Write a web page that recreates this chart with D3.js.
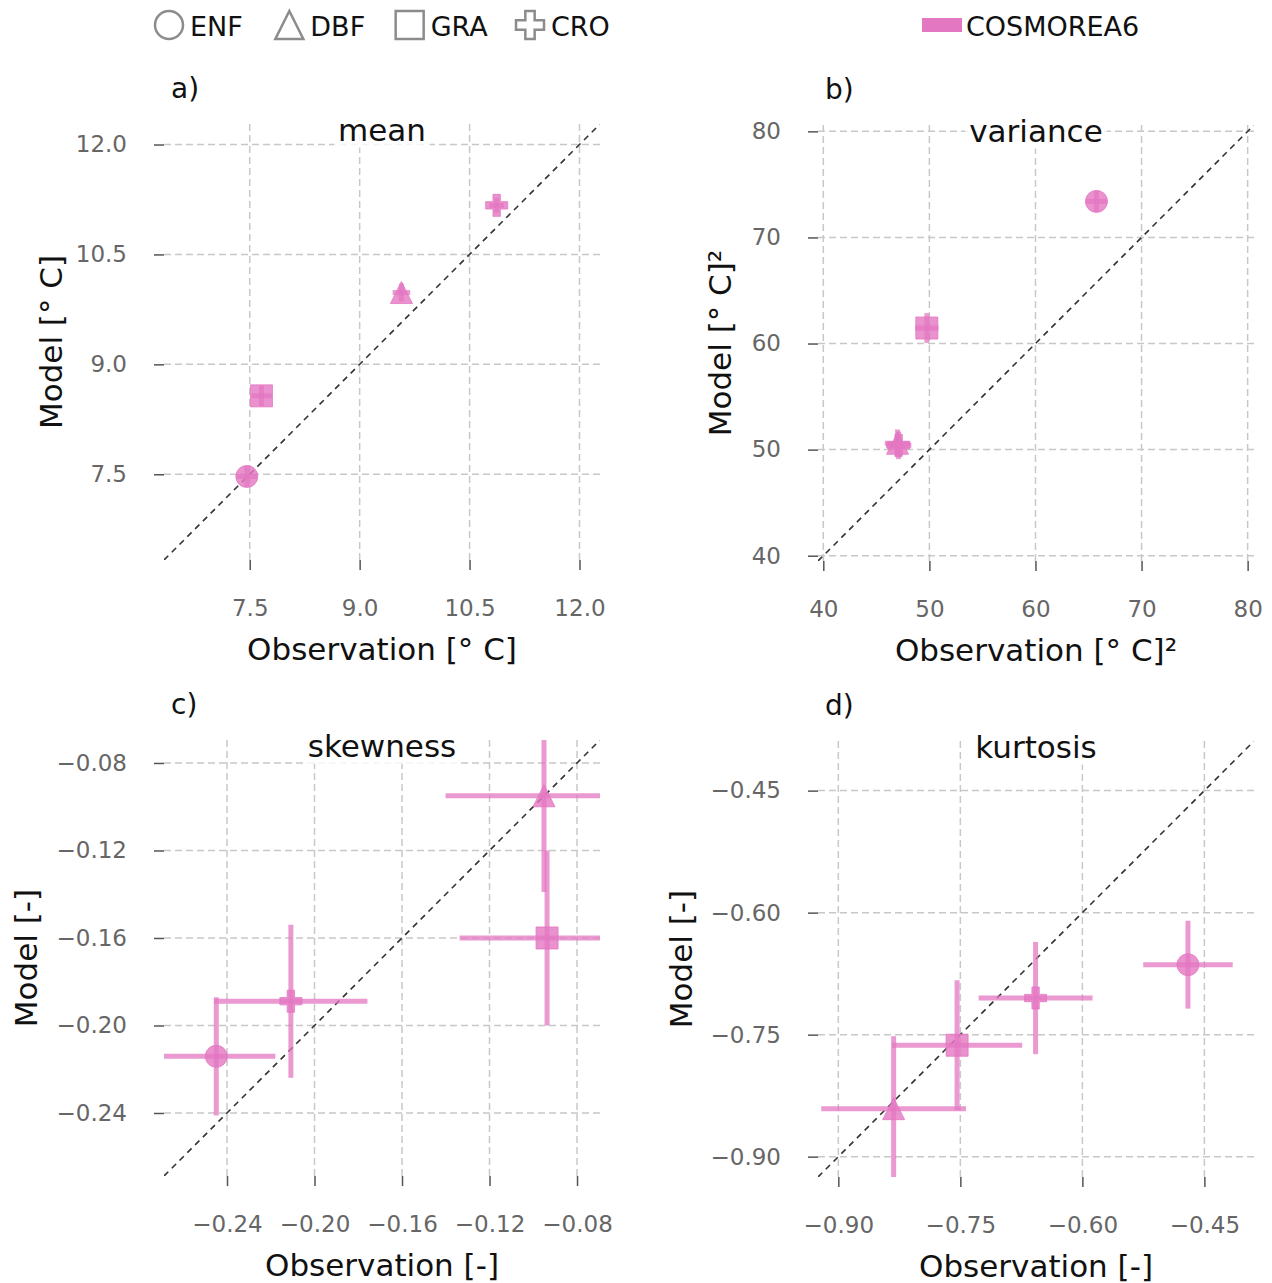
<!DOCTYPE html>
<html>
<head>
<meta charset="utf-8">
<script src="https://cdn.jsdelivr.net/npm/d3@7"></script>
<style>
  body { margin: 0; background: #fff; }
  text { font-family: "DejaVu Sans", "Noto Sans", sans-serif; }
</style>
</head>
<body>
<div id="divChart"></div>
<script>
// sites in plotting order and their marker shapes
var sites = ["ENF", "DBF", "GRA", "CRO"];
var shapes = ["circle", "triangle", "square", "plus"];
var modelName = "COSMOREA6";

// mean [° C]
var meanObs = [7.46, 9.57, 7.66, 10.87];
var meanMod = [7.47, 9.98, 8.57, 11.17];
var meanObsErr = [0.14, 0.12, 0.14, 0.10];
var meanModErr = [0.14, 0.12, 0.14, 0.10];
var meanLim = [6.33, 12.28];
var meanTicks = [7.5, 9.0, 10.5, 12.0];

// variance [° C]^2
var varObs = [65.75, 47.0, 49.76, 47.1];
var varMod = [73.4, 50.6, 61.46, 50.4];
var varObsErr = [1.0, 1.2, 1.1, 1.2];
var varModErr = [1.0, 1.3, 1.4, 1.3];
var varLim = [39.5, 80.6];
var varTicks = [40, 50, 60, 70, 80];

// skewness [-]
var skewObs = [-0.2449, -0.0951, -0.0937, -0.2108];
var skewMod = [-0.2141, -0.0950, -0.1600, -0.1889];
var skewObsErr = [0.027, 0.045, 0.040, 0.035];
var skewModErr = [0.027, 0.044, 0.040, 0.035];
var skewLim = [-0.2688, -0.0695];
var skewTicks = [-0.24, -0.20, -0.16, -0.12, -0.08];

// kurtosis [-]
var kurtObs = [-0.4702, -0.832, -0.754, -0.6575];
var kurtMod = [-0.664, -0.841, -0.763, -0.705];
var kurtObsErr = [0.055, 0.089, 0.080, 0.070];
var kurtModErr = [0.054, 0.089, 0.080, 0.069];
var kurtLim = [-0.925, -0.389];
var kurtTicks = [-0.90, -0.75, -0.60, -0.45];

var pink = "#e377c2";
var gridColor = "#c8c8c8";
var size = 436;
var labelFont = "31px";
var tickFont = "23px";

// marker path centred on 0,0 with overall width w
function markerPath(shape, w)
{
    var h = w / 2;
    if (shape == "circle") {
        return d3.symbol().type(d3.symbolCircle).size(Math.PI * h * h)();
    }
    if (shape == "square") {
        return "M" + (-h) + "," + (-h) + "h" + w + "v" + w + "h" + (-w) + "Z";
    }
    if (shape == "triangle") {
        return "M0," + (-h) + "L" + h + "," + h + "L" + (-h) + "," + h + "Z";
    }
    var a = w / 6;
    return "M" + (-a) + "," + (-h) + "H" + a + "V" + (-a) + "H" + h + "V" + a + "H" + a +
           "V" + h + "H" + (-a) + "V" + a + "H" + (-h) + "V" + (-a) + "H" + (-a) + "Z";
}

function drawPanel(svg, p, idx)
{
    var scaleX = d3.scaleLinear().domain(p.lim).range([p.x0, p.x0 + size]);
    var scaleY = d3.scaleLinear().domain(p.lim).range([p.y0 + size, p.y0]);
    var g = svg.append("g");

    var clipId = "clip" + idx;
    g.append("clipPath").attr("id", clipId)
        .append("rect")
        .attr("x", p.x0).attr("y", p.y0)
        .attr("width", size).attr("height", size);

    // grid lines
    g.selectAll("line.vgrid").data(p.ticks).enter().append("line")
        .attr("x1", function(d){ return scaleX(d); })
        .attr("x2", function(d){ return scaleX(d); })
        .attr("y1", p.y0).attr("y2", p.y0 + size)
        .style("stroke", gridColor).style("stroke-width", 1.5)
        .style("stroke-dasharray", "7, 4");
    g.selectAll("line.hgrid").data(p.ticks).enter().append("line")
        .attr("y1", function(d){ return scaleY(d); })
        .attr("y2", function(d){ return scaleY(d); })
        .attr("x1", p.x0).attr("x2", p.x0 + size)
        .style("stroke", gridColor).style("stroke-width", 1.5)
        .style("stroke-dasharray", "7, 4");

    // axes: ticks outside, no domain line
    var xAxis = d3.axisBottom(scaleX).tickValues(p.ticks).tickFormat(p.fmt)
        .tickSize(10).tickPadding(30);
    var yAxis = d3.axisLeft(scaleY).tickValues(p.ticks).tickFormat(p.fmt)
        .tickSize(10).tickPadding(27);

    var gx = g.append("g")
        .attr("transform", "translate(0," + (p.y0 + size) + ")")
        .call(xAxis);
    var gy = g.append("g")
        .attr("transform", "translate(" + p.x0 + ",0)")
        .call(yAxis);
    [gx, gy].forEach(function(ax) {
        ax.select(".domain").remove();
        ax.selectAll(".tick line").style("stroke", "#555").style("stroke-width", 1.5);
        ax.selectAll(".tick text")
            .style("font-size", tickFont)
            .style("fill", "#666")
            .style("font-family", "'DejaVu Sans', 'Noto Sans', sans-serif");
    });

    // 1:1 line
    g.append("line")
        .attr("clip-path", "url(#" + clipId + ")")
        .attr("x1", scaleX(p.lim[0])).attr("y1", scaleY(p.lim[0]))
        .attr("x2", scaleX(p.lim[1])).attr("y2", scaleY(p.lim[1]))
        .style("stroke", "#333").style("stroke-width", 1.6)
        .style("stroke-dasharray", "6, 5");

    // points with error bars
    var pts = g.append("g").attr("clip-path", "url(#" + clipId + ")");
    for (var i = 0; i < sites.length; i++)
    {
        var cx = scaleX(p.obs[i]);
        var cy = scaleY(p.mod[i]);
        pts.append("line")
            .attr("x1", scaleX(p.obs[i] - p.obsErr[i])).attr("x2", scaleX(p.obs[i] + p.obsErr[i]))
            .attr("y1", cy).attr("y2", cy)
            .style("stroke", pink).style("stroke-width", 5).style("stroke-opacity", 0.75);
        pts.append("line")
            .attr("x1", cx).attr("x2", cx)
            .attr("y1", scaleY(p.mod[i] - p.modErr[i])).attr("y2", scaleY(p.mod[i] + p.modErr[i]))
            .style("stroke", pink).style("stroke-width", 5).style("stroke-opacity", 0.75);
        pts.append("path")
            .attr("d", markerPath(shapes[i], 22))
            .attr("transform", "translate(" + cx + "," + cy + ")")
            .style("fill", pink).style("fill-opacity", 0.8)
            .style("stroke", pink).style("stroke-opacity", 0.8).style("stroke-width", 1);
    }

    // title with a faint white box
    var title = g.append("text")
        .attr("x", p.x0 + size / 2).attr("y", p.y0 + 17)
        .attr("text-anchor", "middle")
        .style("font-size", labelFont).style("fill", "#111")
        .text(p.title);
    var bb = title.node().getBBox();
    g.insert("rect", function(){ return title.node(); })
        .attr("x", bb.x - 4).attr("y", bb.y).attr("width", bb.width + 8).attr("height", bb.height)
        .style("fill", "#fff").style("fill-opacity", 0.8);

    // panel letter
    g.append("text")
        .attr("x", p.x0 + 7).attr("y", p.y0 - 26)
        .style("font-size", "28px").style("fill", "#111")
        .text(p.letter);

    // axis labels
    g.append("text")
        .attr("x", p.x0 + size / 2).attr("y", p.y0 + size + 100)
        .attr("text-anchor", "middle")
        .style("font-size", labelFont).style("fill", "#111")
        .text(p.xlabel);
    g.append("text")
        .attr("transform", "translate(" + (p.x0 - p.ylabelGap) + "," + (p.y0 + size / 2) + ") rotate(-90)")
        .attr("text-anchor", "middle")
        .style("font-size", labelFont).style("fill", "#111")
        .text(p.ylabel);
}

function drawLegend(svg)
{
    var legendX = d3.scalePoint().domain(sites).range([169, 530]);
    var lg = svg.append("g");
    sites.forEach(function(s, i) {
        lg.append("path")
            .attr("d", markerPath(shapes[i], 28))
            .attr("transform", "translate(" + legendX(s) + ",25)")
            .style("fill", "none").style("stroke", "#8c8c8c").style("stroke-width", 2.5);
        lg.append("text")
            .attr("x", legendX(s) + 21).attr("y", 36)
            .style("font-size", "27px").style("fill", "#111")
            .text(s);
    });
    lg.append("rect")
        .attr("x", 922).attr("y", 18).attr("width", 40).attr("height", 14)
        .style("fill", pink);
    lg.append("text")
        .attr("x", 966).attr("y", 36)
        .style("font-size", "27px").style("fill", "#111")
        .text(modelName);
}

function init()
{
    var svg = d3.select("#divChart").append("svg")
        .attr("width", 1272)
        .attr("height", 1283);

    var panels = [
        {letter: "a)", title: "mean", x0: 164, y0: 124, lim: meanLim, ticks: meanTicks,
         obs: meanObs, mod: meanMod, obsErr: meanObsErr, modErr: meanModErr,
         fmt: d3.format(".1f"), xlabel: "Observation [° C]", ylabel: "Model [° C]", ylabelGap: 102},
        {letter: "b)", title: "variance", x0: 818, y0: 125, lim: varLim, ticks: varTicks,
         obs: varObs, mod: varMod, obsErr: varObsErr, modErr: varModErr,
         fmt: d3.format("d"), xlabel: "Observation [° C]²", ylabel: "Model [° C]²", ylabelGap: 87},
        {letter: "c)", title: "skewness", x0: 164, y0: 740, lim: skewLim, ticks: skewTicks,
         obs: skewObs, mod: skewMod, obsErr: skewObsErr, modErr: skewModErr,
         fmt: d3.format(".2f"), xlabel: "Observation [-]", ylabel: "Model [-]", ylabelGap: 127},
        {letter: "d)", title: "kurtosis", x0: 818, y0: 741, lim: kurtLim, ticks: kurtTicks,
         obs: kurtObs, mod: kurtMod, obsErr: kurtObsErr, modErr: kurtModErr,
         fmt: d3.format(".2f"), xlabel: "Observation [-]", ylabel: "Model [-]", ylabelGap: 126}
    ];
    panels.forEach(function(p, i){ drawPanel(svg, p, i); });
    drawLegend(svg);
}

window.onload = init;
</script>
</body>
</html>
